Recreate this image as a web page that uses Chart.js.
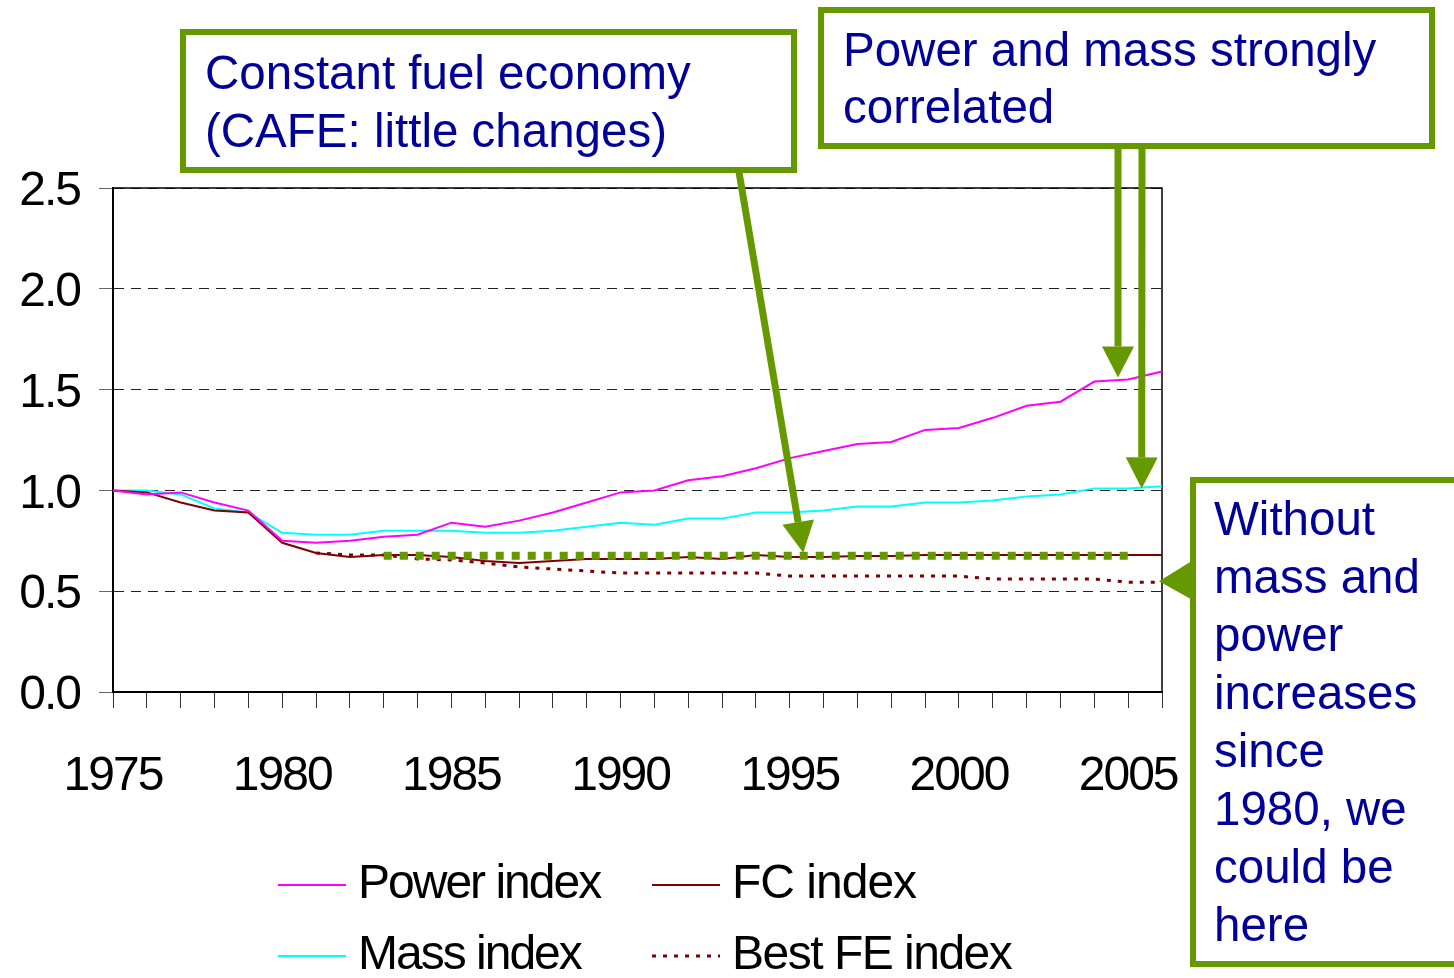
<!DOCTYPE html>
<html>
<head>
<meta charset="utf-8">
<script src="https://cdn.jsdelivr.net/npm/chart.js@4.4.0/dist/chart.umd.min.js"></script>
<style>
  html, body { margin: 0; padding: 0; background: #fff; }
</style>
</head>
<body>
<canvas id="indexChart" width="1454" height="978"></canvas>
<script>
// Years on the x axis
var years = [1975, 1976, 1977, 1978, 1979, 1980, 1981, 1982, 1983, 1984,
             1985, 1986, 1987, 1988, 1989, 1990, 1991, 1992, 1993, 1994,
             1995, 1996, 1997, 1998, 1999, 2000, 2001, 2002, 2003, 2004,
             2005, 2006];

// Index values (1975 = 1.0)
var powerIndex = [1.00, 0.98, 0.99, 0.94, 0.90, 0.75, 0.74, 0.75, 0.77, 0.78,
                  0.84, 0.82, 0.85, 0.89, 0.94, 0.99, 1.00, 1.05, 1.07, 1.11,
                  1.16, 1.195, 1.23, 1.24, 1.30, 1.31, 1.36, 1.42, 1.44, 1.54,
                  1.55, 1.59];
var massIndex = [1.00, 1.00, 0.98, 0.91, 0.89, 0.79, 0.78, 0.78, 0.80, 0.80,
                 0.80, 0.79, 0.79, 0.80, 0.82, 0.84, 0.83, 0.86, 0.86, 0.89,
                 0.89, 0.90, 0.92, 0.92, 0.94, 0.94, 0.95, 0.97, 0.98, 1.01,
                 1.01, 1.02];
var fcIndex = [1.00, 0.99, 0.94, 0.90, 0.89, 0.74, 0.69, 0.67, 0.68, 0.68,
               0.67, 0.65, 0.64, 0.65, 0.66, 0.66, 0.66, 0.67, 0.66, 0.68,
               0.67, 0.67, 0.675, 0.675, 0.68, 0.68, 0.68, 0.68, 0.68, 0.68,
               0.68, 0.68];
var bestFeIndex = [null, null, null, null, null, null, 0.69, 0.68, 0.68, 0.66,
                   0.655, 0.64, 0.62, 0.61, 0.60, 0.59, 0.59, 0.59, 0.59, 0.59,
                   0.575, 0.575, 0.575, 0.575, 0.575, 0.575, 0.56, 0.56, 0.56, 0.56,
                   0.545, 0.545];

// Constant fuel economy marker (green dotted band)
var cafeLevel = 0.676;
var cafeLine = [null, null, null, null, null, null, null, null, cafeLevel, cafeLevel,
                cafeLevel, cafeLevel, cafeLevel, cafeLevel, cafeLevel, cafeLevel, cafeLevel, cafeLevel, cafeLevel, cafeLevel,
                cafeLevel, cafeLevel, cafeLevel, cafeLevel, cafeLevel, cafeLevel, cafeLevel, cafeLevel, cafeLevel, cafeLevel,
                cafeLevel, null];

var yTicks = [0, 0.5, 1.0, 1.5, 2.0, 2.5];

var GREEN = '#669900';
var NAVY = '#000099';
var FONT = '"Liberation Sans", Arial, Helvetica, sans-serif';

// tighter letters for the axis and legend text, like the original
var tightText = {
    id: 'tightText',
    beforeDraw: function (chart) {
        chart.ctx.letterSpacing = '-2px';
    }
};

// top and right edges of the plot box
var plotFrame = {
    id: 'plotFrame',
    beforeDatasetsDraw: function (chart) {
        var a = chart.chartArea, ctx = chart.ctx;
        ctx.save();
        ctx.strokeStyle = '#000';
        ctx.lineWidth = 1.5;
        ctx.beginPath();
        ctx.moveTo(a.left, a.top);
        ctx.lineTo(a.right, a.top);
        ctx.lineTo(a.right, a.bottom);
        ctx.stroke();
        ctx.restore();
    }
};

// two-column legend under the axis
var legendBlock = {
    id: 'legendBlock',
    afterDraw: function (chart) {
        var ctx = chart.ctx;
        var items = [
            { ds: 0, x: 278, y: 885, sp: '-2px' },
            { ds: 1, x: 652, y: 885, sp: '-1px' },
            { ds: 2, x: 278, y: 956, sp: '-2px' },
            { ds: 3, x: 652, y: 956, sp: '-1.5px' }
        ];
        ctx.save();
        ctx.font = '48px ' + FONT;
        ctx.fillStyle = '#000';
        ctx.textBaseline = 'middle';
        items.forEach(function (it) {
            var ds = chart.data.datasets[it.ds];
            ctx.strokeStyle = ds.borderColor;
            ctx.lineWidth = ds.borderWidth;
            ctx.setLineDash(ds.borderDash || []);
            ctx.beginPath();
            ctx.moveTo(it.x, it.y);
            ctx.lineTo(it.x + 68, it.y);
            ctx.stroke();
            ctx.setLineDash([]);
            ctx.letterSpacing = it.sp;
            ctx.fillText(ds.label, it.x + 80, it.y);
        });
        ctx.restore();
    }
};

function arrow(ctx, x1, y1, x2, y2) {
    var ang = Math.atan2(y2 - y1, x2 - x1);
    var headLen = 31, half = 16;
    var bx = x2 - headLen * Math.cos(ang), by = y2 - headLen * Math.sin(ang);
    ctx.lineWidth = 7;
    ctx.beginPath();
    ctx.moveTo(x1, y1);
    ctx.lineTo(bx, by);
    ctx.stroke();
    ctx.beginPath();
    ctx.moveTo(x2, y2);
    ctx.lineTo(bx + half * Math.sin(ang), by - half * Math.cos(ang));
    ctx.lineTo(bx - half * Math.sin(ang), by + half * Math.cos(ang));
    ctx.closePath();
    ctx.fill();
}

function box(ctx, x, y, w, h, lines, tx, firstLine, step) {
    ctx.fillStyle = '#fff';
    ctx.fillRect(x, y, w, h);
    ctx.lineWidth = 6;
    ctx.strokeRect(x + 3, y + 3, w - 6, h - 6);
    ctx.fillStyle = NAVY;
    lines.forEach(function (t, i) {
        ctx.fillText(t, tx, firstLine + i * step);
    });
    ctx.fillStyle = GREEN;
}

// callout boxes and arrows
var callouts = {
    id: 'callouts',
    afterDraw: function (chart) {
        var ctx = chart.ctx, xs = chart.scales.x, ys = chart.scales.y;
        ctx.save();
        ctx.letterSpacing = '0px';
        ctx.font = '47.5px ' + FONT;
        ctx.textBaseline = 'middle';
        ctx.strokeStyle = GREEN;
        ctx.fillStyle = GREEN;

        // constant fuel economy
        box(ctx, 180, 29, 617, 144, ['Constant fuel economy', '(CAFE: little changes)'], 205, 76, 58);
        arrow(ctx, 739, 172, xs.getPixelForValue(20.4), ys.getPixelForValue(cafeLevel) - 3);

        // power and mass
        box(ctx, 818, 7, 617, 142, ['Power and mass strongly', 'correlated'], 843, 53, 57);
        arrow(ctx, 1118, 148, xs.getPixelForValue(29.7), ys.getPixelForValue(1.56));
        arrow(ctx, 1142, 148, xs.getPixelForValue(30.4), ys.getPixelForValue(1.01));

        // without mass and power increases
        box(ctx, 1190, 477, 270, 490,
            ['Without', 'mass and', 'power', 'increases', 'since', '1980, we', 'could be', 'here'],
            1214, 522, 58);
        var tipY = ys.getPixelForValue(bestFeIndex[bestFeIndex.length - 1]) - 1;
        ctx.beginPath();
        ctx.moveTo(1193, tipY - 21);
        ctx.lineTo(1193, tipY + 19);
        ctx.lineTo(xs.right - 3, tipY);
        ctx.closePath();
        ctx.fill();
        ctx.restore();
    }
};

var ctx = document.getElementById('indexChart').getContext('2d');
var indexChart = new Chart(ctx, {
    type: 'line',
    data: {
        labels: years,
        datasets: [{
            label: 'Power index',
            data: powerIndex,
            borderColor: '#ff00ff',
            borderWidth: 2
        }, {
            label: 'FC index',
            data: fcIndex,
            borderColor: '#800000',
            borderWidth: 2
        }, {
            label: 'Mass index',
            data: massIndex,
            borderColor: '#00ffff',
            borderWidth: 2
        }, {
            label: 'Best FE index',
            data: bestFeIndex,
            borderColor: '#800000',
            borderWidth: 3,
            borderDash: [4, 7]
        }, {
            label: 'CAFE',
            data: cafeLine,
            borderColor: GREEN,
            borderWidth: 8,
            borderDash: [8, 8],
            order: -1
        }]
    },
    options: {
        responsive: false,
        animation: false,
        elements: {
            point: { radius: 0 },
            line: { tension: 0, borderCapStyle: 'butt' }
        },
        layout: {
            padding: { left: 0, top: 188, right: 292, bottom: 156 }
        },
        plugins: {
            legend: { display: false },
            tooltip: { enabled: false }
        },
        scales: {
            x: {
                grid: { drawOnChartArea: false, tickLength: 16, tickColor: '#333' },
                border: { color: '#000', width: 2 },
                ticks: {
                    autoSkip: false,
                    maxRotation: 0,
                    padding: 40,
                    color: '#000',
                    font: { family: FONT, size: 48 },
                    callback: function (v, i) {
                        return years[i] % 5 === 0 ? String(years[i]) : '';
                    }
                },
                afterFit: function (s) { s.height = 130; }
            },
            y: {
                min: 0,
                max: 2.5,
                afterBuildTicks: function (s) {
                    s.ticks = yTicks.map(function (v) { return { value: v }; });
                },
                grid: { color: '#222', lineWidth: 1, tickLength: 14, tickColor: '#666' },
                border: { color: '#000', width: 2, dash: [10, 7] },
                ticks: {
                    padding: 19,
                    labelOffset: 4,
                    color: '#000',
                    font: { family: FONT, size: 48 },
                    callback: function (v) { return v.toFixed(1); }
                },
                afterFit: function (s) { s.width = 113; }
            }
        }
    },
    plugins: [tightText, plotFrame, legendBlock, callouts]
});
</script>
</body>
</html>
